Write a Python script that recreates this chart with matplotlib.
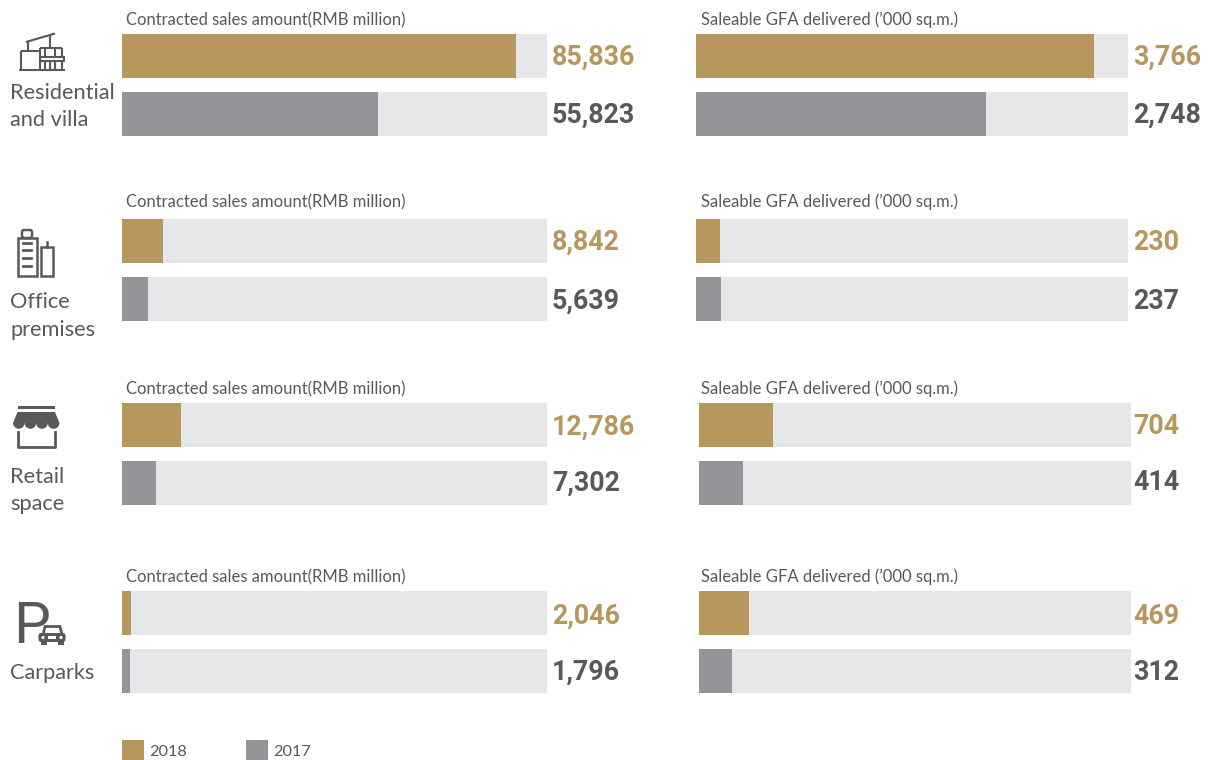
"""
Contract sales and delivered floor area by property type, 2018 against 2017.
"""
import matplotlib
matplotlib.use("Agg")
import matplotlib.pyplot as plt
from matplotlib.patches import Circle, FancyBboxPatch, Polygon, Rectangle, Wedge

WIDTH = 1212
HEIGHT = 760

TAN = "#b8975f"
GREY = "#939598"
TRACK = "#e6e7e8"
INK = "#58595b"

property_types = [["Residential", "and villa"], ["Office", "premises"],
                  ["Retail", "space"], ["Carparks"]]
years = ["2018", "2017"]
sales_title = "Contracted sales amount(RMB million)"
gfa_title = "Saleable GFA delivered (\u2019000 sq.m.)"

sales_2018 = [85836, 8842, 12786, 2046]
sales_2017 = [55823, 5639, 7302, 1796]
gfa_2018 = [3766, 230, 704, 469]
gfa_2017 = [2748, 237, 414, 312]

# Full length of the pale track, in the units of each measure
sales_max = 92500
gfa_max = 4090

# Pixel layout of each row
row_tops = [34, 219, 403, 591]
title_baselines = [25, 207, 394, 582]
name_ys = [[93, 120], [302, 330], [477, 504], [673]]
value_ys = [[54, 112], [239, 298.5], [424, 480], [613, 669]]
sales_lefts = [122, 122, 122, 122]
gfa_lefts = [696, 696, 699, 699]
sales_title_x = 126
gfa_title_x = 701
sales_value_x = 552
gfa_value_x = 1133
sales_width = 425
gfa_width = 432
bar_h = 44
bar_gap = 14


def add_panel(fig, left, top, width, values, limit):
    """Draws one pair of bars on its own axes, placed by pixel position."""
    height = 2*bar_h + bar_gap
    ax = fig.add_axes([left/WIDTH, 1 - (top + height)/HEIGHT,
                       width/WIDTH, height/HEIGHT])
    ax.set_xlim(0, limit)
    ax.set_ylim(height, 0)
    centres = [bar_h/2, bar_h + bar_gap + bar_h/2]
    ax.barh(centres, [limit, limit], height=bar_h, color=TRACK, linewidth=0)
    ax.barh(centres, values, height=bar_h, color=[TAN, GREY], linewidth=0)
    ax.axis("off")


def value_label(ax, x, y, value, color):
    """Writes the bold figure just to the right of the track."""
    ax.text(x, y, f"{value:,}", ha="left", va="center_baseline", color=color,
            family="Roboto", weight="bold", fontsize=19.3)


def draw_house(ax):
    """Line drawing of a villa."""
    for xs, ys in [([26, 55], [42, 33.5]), ([28, 28], [41.5, 50]),
                   ([49.5, 49.5], [35.5, 47]), ([19, 65], [69.5, 69.5]),
                   ([21, 40], [50.5, 50.5]), ([21, 21], [50.5, 69.5]),
                   ([40, 61.5], [47.5, 47.5]), ([40, 40], [47.5, 69.5]),
                   ([61.5, 61.5], [47.5, 57]), ([61.5, 61.5], [60, 69.5]),
                   ([45, 45], [48, 57]), ([55, 55], [48, 57]),
                   ([45, 45], [61, 69]), ([50, 50], [61, 69]),
                   ([55, 55], [61, 69])]:
        ax.plot(xs, ys, color=INK, lw=1.5, solid_capstyle="butt")
    ax.add_patch(Rectangle((40, 57), 24, 3.5, fc="white", ec=INK, lw=1.5))


def draw_office(ax):
    """Line drawing of a tall and a short tower."""
    ax.add_patch(Rectangle((17.5, 238), 19, 38, fc="none", ec=INK, lw=1.8))
    ax.add_patch(FancyBboxPatch((22, 230), 10, 8, boxstyle="round,pad=0,rounding_size=2",
                                fc="none", ec=INK, lw=1.8))
    ax.add_patch(Rectangle((40.5, 247), 12, 29, fc="none", ec=INK, lw=1.8))
    ax.plot([46.5, 46.5], [242, 247], color=INK, lw=1.8)
    for y in [243, 250, 258, 266]:
        ax.plot([23, 31], [y, y], color=INK, lw=2)


def draw_shop(ax):
    """Shop front with a scalloped awning."""
    ax.add_patch(Rectangle((17.5, 406), 37.5, 2.5, fc=INK, lw=0))
    ax.add_patch(Polygon([(17.5, 412), (55, 412), (59.5, 423), (13, 423)],
                         fc=INK, lw=0))
    for x in [18.8, 30.4, 42, 53.6]:
        ax.add_patch(Wedge((x, 423), 5.8, 0, 180, fc=INK, lw=0))
    ax.plot([18, 18, 55, 55], [432, 447, 447, 432], color=INK, lw=2)


def draw_carpark(ax):
    """Parking sign letter with a small car beside it."""
    ax.text(13, 643, "P", color=INK, family="Roboto", fontsize=42,
            ha="left", va="baseline")
    ax.add_patch(Polygon([(43, 635), (45, 626.5), (60, 626.5), (62, 635)],
                         fc="white", ec=INK, lw=2))
    ax.add_patch(FancyBboxPatch((38.5, 633), 27, 9, boxstyle="round,pad=0,rounding_size=2.5",
                                fc=INK, lw=0))
    ax.add_patch(Rectangle((41, 641), 5.5, 3.5, fc=INK, lw=0))
    ax.add_patch(Rectangle((58, 641), 5.5, 3.5, fc=INK, lw=0))
    for x in [43, 61]:
        ax.add_patch(Circle((x, 637.5), 1.6, fc="white", lw=0))
    ax.add_patch(Rectangle((48, 636), 8, 2.5, fc="white", lw=0))


def main():
    plt.rcParams["font.family"] = ["Lato", "DejaVu Sans"]
    fig = plt.figure(figsize=(WIDTH/100, HEIGHT/100), dpi=100, facecolor="white")

    # Full-figure axes in pixels for the category names, icons and legend
    page = fig.add_axes([0, 0, 1, 1], zorder=2)
    page.set_xlim(0, WIDTH)
    page.set_ylim(HEIGHT, 0)
    page.axis("off")

    for i in range(len(property_types)):
        for line, y in zip(property_types[i], name_ys[i]):
            page.text(10, y, line, color=INK, fontsize=15.7, ha="left", va="center")

        page.text(sales_title_x, title_baselines[i], sales_title, color=INK,
                  fontsize=12, ha="left", va="baseline")
        page.text(gfa_title_x, title_baselines[i], gfa_title, color=INK,
                  fontsize=12, ha="left", va="baseline")

        add_panel(fig, sales_lefts[i], row_tops[i], sales_width,
                  [sales_2018[i], sales_2017[i]], sales_max)
        value_label(page, sales_value_x, value_ys[i][0], sales_2018[i], TAN)
        value_label(page, sales_value_x, value_ys[i][1], sales_2017[i], INK)

        add_panel(fig, gfa_lefts[i], row_tops[i], gfa_width,
                  [gfa_2018[i], gfa_2017[i]], gfa_max)
        value_label(page, gfa_value_x, value_ys[i][0], gfa_2018[i], TAN)
        value_label(page, gfa_value_x, value_ys[i][1], gfa_2017[i], INK)

    draw_house(page)
    draw_office(page)
    draw_shop(page)
    draw_carpark(page)

    # Legend swatches along the bottom
    for x, year, color in zip([122, 246], years, [TAN, GREY]):
        page.add_patch(Rectangle((x, 740), 22, 20, fc=color, lw=0))
        page.text(x + 27, 751.5, year, color=INK, fontsize=11.8, ha="left", va="center")

    fig.savefig("out.png", dpi=100)


main()
